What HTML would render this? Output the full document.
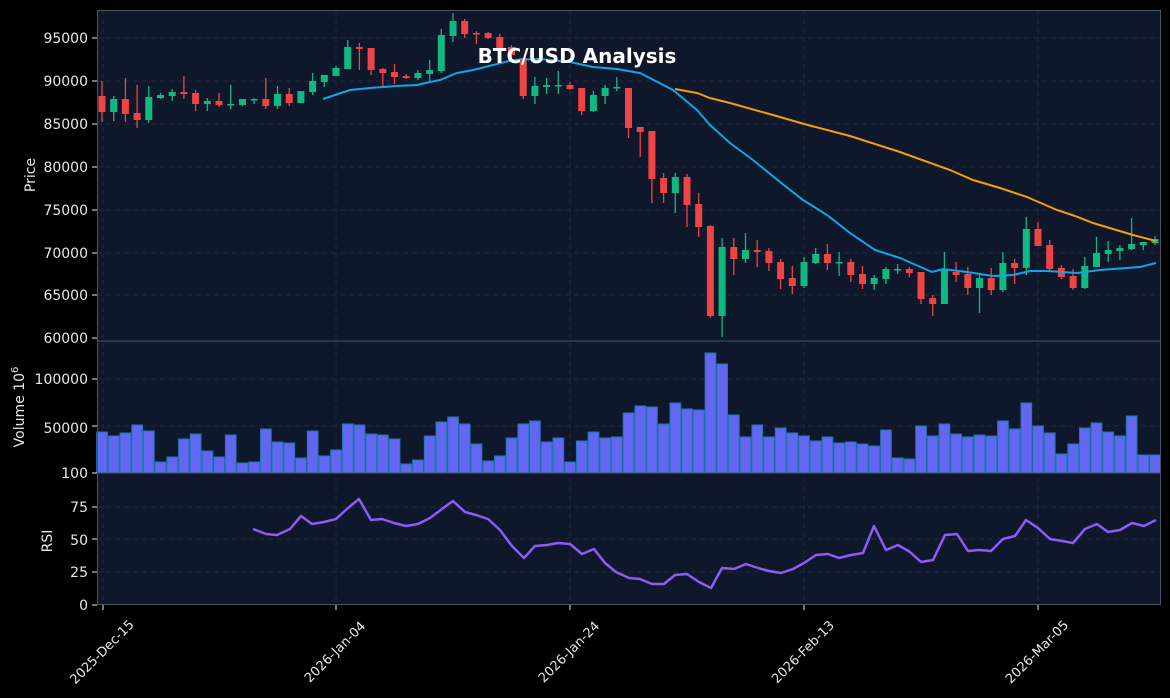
<!DOCTYPE html>
<html><head><meta charset="utf-8"><style>
html,body{margin:0;padding:0;background:#000;}
svg{display:block;font-family:"DejaVu Sans","Liberation Sans",sans-serif;}
</style></head><body>
<svg id="s" width="1170" height="698" viewBox="0 0 1170 698" xmlns="http://www.w3.org/2000/svg">
<rect width="1170" height="698" fill="#000"/>
<rect x="97" y="10" width="1064" height="595" fill="#0f172a"/>
<g id="grid" stroke="#1e293b" stroke-width="1" stroke-dasharray="5,4"></g>
<g id="vol"></g>
<g id="cand"></g>
<polyline id="sma20" fill="none" stroke="#0ea5e9" stroke-width="2"/>
<polyline id="sma50" fill="none" stroke="#f59e0b" stroke-width="2"/>
<polyline id="rsi" fill="none" stroke="#8b5cf6" stroke-width="2.5" stroke-linejoin="round"/>
<g fill="none" stroke="#475569" stroke-width="1">
<rect x="97.5" y="10.5" width="1063" height="594"/>
<line x1="97" y1="341" x2="1161" y2="341"/>
<line x1="97" y1="473" x2="1161" y2="473"/>
</g>
<g id="ticks" stroke="#e5e7eb" stroke-width="1"></g>
<g fill="#e5e7eb" font-size="14" text-anchor="end">
<text x="88" y="43">95000</text><text x="88" y="86">90000</text><text x="88" y="129">85000</text>
<text x="88" y="172">80000</text><text x="88" y="215">75000</text><text x="88" y="258">70000</text>
<text x="88" y="300">65000</text><text x="88" y="343">60000</text>
<text x="88" y="384">100000</text><text x="88" y="433">50000</text><text x="88" y="478">100</text>
<text x="88" y="512">75</text><text x="88" y="545">50</text><text x="88" y="577">25</text><text x="88" y="610">0</text>
</g>
<g fill="#e5e7eb" font-size="14">
<text transform="translate(35,175) rotate(-90)" text-anchor="middle">Price</text>
<text transform="translate(24,407) rotate(-90)" text-anchor="middle">Volume  10<tspan font-size="10" dy="-6">6</tspan></text>
<text transform="translate(52,541) rotate(-90)" text-anchor="middle">RSI</text>
</g>
<g fill="#e5e7eb" font-size="13" text-anchor="middle">
<text transform="translate(105,655) rotate(-45)">2025-Dec-15</text>
<text transform="translate(338,655) rotate(-45)">2026-Jan-04</text>
<text transform="translate(572,655) rotate(-45)">2026-Jan-24</text>
<text transform="translate(806,655) rotate(-45)">2026-Feb-13</text>
<text transform="translate(1040,655) rotate(-45)">2026-Mar-05</text>
</g>
<text x="577" y="63" fill="#fff" font-size="20" font-weight="bold" text-anchor="middle">BTC/USD Analysis</text>
</svg>
<script>
var NS="http://www.w3.org/2000/svg";
function el(p,t,a){var e=document.createElementNS(NS,t);for(var k in a)e.setAttribute(k,a[k]);document.getElementById(p).appendChild(e);return e;}
var g=[38,81,124,167,210,253,295,379,426,507,539,572];
g.forEach(function(y){el("grid","line",{x1:97,x2:1161,y1:y,y2:y});});
[103,336,570,804,1038].forEach(function(x){el("grid","line",{x1:x,x2:x,y1:10,y2:605});el("ticks","line",{x1:x,x2:x,y1:605,y2:610});});
[38,81,124,167,210,253,295,338,379,426,473,507,539,572,605].forEach(function(y){el("ticks","line",{x1:92,x2:97,y1:y,y2:y});});
var C=[[96,112,81,122,0],[99,112,96,121,1],[99,114,78,122,0],[113,120,85,128,0],[97,120,86,123,1],[95,98,93,99,1],[92,96,89,101,1],[92,94,76,99,0],[93,104,90,111,0],[101,104,98,111,1],
[101,105,93,107,0],[104,105,85,109,1],[99,105,99,106,1],[99,100,98,104,1],[99,106,78,109,0],[94,106,86,109,1],[94,103,88,106,0],[91,103,91,103,1],[81,92,73,95,1],[75,82,75,87,1],
[68,76,66,76,1],[47,69,40,69,1],[47,49,43,70,0],[48,70,48,75,0],[69,73,68,86,0],[72,77,64,84,0],[76,78,74,79,0],[73,78,70,80,1],[70,74,60,81,1],[35,71,29,73,1],
[21,36,13,42,1],[21,34,19,38,0],[33,34,31,44,0],[33,38,32,39,0],[37,48,34,50,0],[47,55,45,58,0],[58,96,58,99,0],[86,96,77,104,1],[85,87,78,94,1],[85,86,71,94,1],
[85,89,82,90,0],[88,111,88,115,0],[95,111,91,112,1],[88,96,85,104,1],[87,88,77,91,1],[88,128,88,138,0],[127,132,127,157,0],[131,179,131,203,0],[178,193,173,203,0],[177,193,173,213,1],
[177,205,174,227,0],[204,227,193,237,0],[226,316,225,318,0],[247,316,238,337,1],[247,259,238,275,0],[250,259,233,263,1],[250,252,240,267,0],[251,263,248,271,0],[262,279,259,289,0],[278,286,266,294,0],
[262,286,257,288,1],[254,263,248,264,1],[254,263,244,270,0],[262,263,252,276,1],[262,275,259,282,0],[274,284,266,289,0],[278,284,275,290,1],[269,279,267,284,1],[269,270,264,274,1],[269,273,267,277,0],
[272,299,272,304,0],[298,304,295,316,0],[269,304,252,304,1],[272,275,262,282,0],[274,288,267,295,0],[278,288,274,313,1],[278,290,268,295,0],[263,290,252,292,1],[263,268,259,284,0],[229,268,217,275,1],
[229,246,222,246,0],[245,269,240,272,0],[268,277,265,279,0],[276,288,269,290,0],[266,288,257,289,1],[253,267,237,267,1],[250,254,241,262,1],[248,251,245,260,1],[244,249,218,250,1],[242,245,242,250,1],[239,243,236,245,1]];
C.forEach(function(c,i){var x=102+i*11.7;var col=c[4]?"#10b981":"#ef4444";
el("cand","line",{x1:x,x2:x,y1:c[2],y2:c[3],stroke:col,"stroke-width":1.3});
el("cand","rect",{x:x-3.5,y:c[0],width:7,height:Math.max(1.5,c[1]-c[0]),fill:col});});
var V=[432,436,433,425,431,462,457,439,434,451,457,435,463,462,429,442,443,458,431,456,450,424,425,434,435,439,464,460,436,422,417,424,444,461,456,438,424,421,442,438,462,441,432,438,437,413,
406,407,424,403,409,410,353,364,415,437,425,437,428,433,436,441,437,443,442,444,446,430,458,459,426,436,424,434,437,435,436,421,429,403,426,433,454,444,428,423,432,436,416,455,455];
V.forEach(function(v,i){var x=96.2+i*11.7;el("vol","rect",{x:x+0.5,y:v,width:10.7,height:473-v,fill:"#6366f1",stroke:"#1f77b4","stroke-width":1});});
document.getElementById("sma20").setAttribute("points","323,99 350,90 370,88 397,86 417,85 430,82 440,80 457,73 473,70 513,60 540,59 570,62 593,67 617,69 640,73 673,90 697,110 710,125 730,143 753,160 780,182 803,200 827,215 850,233 875,250 900,258 932,272 943,269 967,272 993,276 1013,275 1030,271 1047,271 1077,273 1100,270 1140,267 1156,263");
document.getElementById("sma50").setAttribute("points","675,89 697,93 710,98 730,103 780,117 804,124 850,136 900,152 950,170 973,180 1000,188 1027,197 1057,210 1075,216 1093,223 1133,235 1156,241");
document.getElementById("rsi").setAttribute("points","253,529 266,534 277,535 290,529 301,516 312,524 324,522 336,519 348,508 359,499 371,520 382,519 394,523 406,526 418,524 430,518 442,509 453,501 465,512 476,515 488,519 500,530 512,546 524,558 535,546 547,545 558,543 570,544 582,554 594,549 605,563 616,572 629,578 640,579 652,584 664,584 675,575 687,574 699,582 711,588 722,568 734,569 746,564 758,568 769,571 781,573 793,569 804,563 816,555 828,554 839,558 851,555 863,553 874,526 886,550 898,545 910,552 921,562 933,560 945,535 957,534 968,551 979,550 991,551 1003,539 1015,536 1026,520 1038,528 1050,539 1062,541 1073,543 1085,529 1097,524 1108,532 1120,530 1132,523 1144,526 1156,520");
</script>
</body></html>
